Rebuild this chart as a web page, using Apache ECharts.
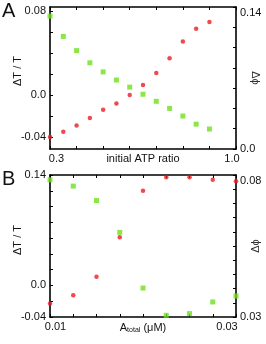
<!DOCTYPE html>
<html><head><meta charset="utf-8">
<script src="https://cdn.jsdelivr.net/npm/echarts@6/dist/echarts.min.js"></script>
<style>html,body{margin:0;padding:0;background:#fff}#c{width:266px;height:344px}</style>
</head><body><div id="c"></div>
<script>
// Panel A
const ratioA = [0.3,0.35,0.4,0.45,0.5,0.55,0.6,0.65,0.7,0.75,0.8,0.85,0.9];
const dTA = [-0.040,-0.035,-0.029,-0.022,-0.014,-0.008,0.000,0.0095,0.021,0.035,0.051,0.063,0.0695];
const phiA = [0.131,0.111,0.097,0.085,0.076,0.068,0.061,0.054,0.047,0.040,0.0325,0.0245,0.0197];
const xTicksA = [0.3,1.0];
const yLeftTicksA = [-0.04,0,0.08];
const yRightTicksA = [0,0.14];
// Panel B
const aTot = [0.01,0.0125,0.015,0.0175,0.02,0.0225,0.025,0.0275,0.03];
const dTB = [-0.023,-0.0125,0.011,0.061,0.120,0.137,0.137,0.134,0.132];
const dphiB = [0.0783,0.0761,0.071,0.0598,0.0402,0.0306,0.0312,0.0353,0.0374];
const xTicksB = [0.01,0.03];
const yLeftTicksB = [-0.04,0,0.14];
const yRightTicksB = [0.03,0.08];

const RED = '#ee1c24', GREEN = '#6fe01a';
const FONT = 'Liberation Sans';
const lab = {fontFamily: FONT, fontSize: 11, color: '#111'};
const line = {show: true, onZero: false, lineStyle: {color: '#000', width: 1.6}};
const tick = (cv) => ({show: true, inside: true, length: 3, lineStyle: {color: '#000', width: 1}, customValues: cv});
function range(a, b, s){ const r=[]; const n=Math.round((b-a)/s); for(let i=0;i<=n;i++) r.push(+(a+i*s).toFixed(6)); return r; }

const yFmt = {'-0.04':'-0.04','0':'0.0','0.08':'0.08','0.14':'0.14','0.03':'0.03'};
const fy = v => yFmt[String(+v.toFixed(6))] || String(v);
const fxA = v => Math.abs(v - 0.3) < 1e-6 ? '{l|0.3}' : '{r|1.0}';
const fxB = v => Math.abs(v - 0.01) < 1e-6 ? '{l|0.01}' : '{r|0.03}';
const richA = {
  l: {fontFamily: FONT, fontSize: 11, color: '#111', padding: [0,0,0,13]},
  r: {fontFamily: FONT, fontSize: 11, color: '#111', padding: [0,8,0,0]}
};
const richB = {
  l: {fontFamily: FONT, fontSize: 11, color: '#111', padding: [0,0,0,11]},
  r: {fontFamily: FONT, fontSize: 11, color: '#111', padding: [0,18,0,0]}
};

const chart = echarts.init(document.getElementById('c'), null, {renderer: 'canvas'});
chart.setOption({
  animation: false,
  grid: [
    {left: 50, top: 7, width: 186, height: 142, outerBoundsMode: 'none', containLabel: false},
    {left: 50, top: 175, width: 186, height: 142, outerBoundsMode: 'none', containLabel: false}
  ],
  xAxis: [
    {gridIndex: 0, type: 'value', min: 0.3, max: 1.0, position: 'bottom',
     axisLine: line, axisTick: tick(range(0.3,1.0,0.1)), splitLine: {show: false},
     axisLabel: Object.assign({customValues: xTicksA, formatter: fxA, margin: 4, rich: richA}, lab),
     name: 'initial ATP ratio', nameLocation: 'middle', nameGap: 4, nameMoveOverlap: false,
     nameTextStyle: {fontFamily: FONT, fontSize: 11, color: '#111', verticalAlign: 'top'}},
    {gridIndex: 0, type: 'value', min: 0.3, max: 1.0, position: 'top',
     axisLine: line, axisTick: tick(range(0.3,1.0,0.1)), splitLine: {show: false}, axisLabel: {show: false}},
    {gridIndex: 1, type: 'value', min: 0.01, max: 0.03, position: 'bottom',
     axisLine: line, axisTick: tick(range(0.01,0.03,0.0025)), splitLine: {show: false},
     axisLabel: Object.assign({customValues: xTicksB, formatter: fxB, margin: 4, rich: richB}, lab),
     name: '{a|A}{s|total}{a| (μM)}', nameLocation: 'middle', nameGap: 4, nameMoveOverlap: false,
     nameTextStyle: {verticalAlign: 'top', rich: {
       a: {fontFamily: FONT, fontSize: 11, color: '#111'},
       s: {fontFamily: FONT, fontSize: 7, color: '#111', verticalAlign: 'bottom', padding: [6,0,0,0]}}}},
    {gridIndex: 1, type: 'value', min: 0.01, max: 0.03, position: 'top',
     axisLine: line, axisTick: tick(range(0.01,0.03,0.0025)), splitLine: {show: false}, axisLabel: {show: false}}
  ],
  yAxis: [
    {gridIndex: 0, type: 'value', min: -0.0514, max: 0.0838, position: 'left',
     axisLine: line, axisTick: tick(range(-0.04,0.08,0.02)), splitLine: {show: false},
     axisLabel: Object.assign({customValues: yLeftTicksA, formatter: fy, margin: 4}, lab)},
    {gridIndex: 0, type: 'value', min: 0, max: 0.14, position: 'right',
     axisLine: line, axisTick: tick(range(0,0.14,0.02)), splitLine: {show: false},
     axisLabel: Object.assign({customValues: yRightTicksA, formatter: fy, margin: 4, verticalAlignMaxLabel: 'top'}, lab),
     name: 'Δϕ', nameLocation: 'middle', nameGap: 14, nameRotate: -90, nameMoveOverlap: false,
     nameTextStyle: {fontFamily: FONT, fontSize: 11, color: '#333'}},
    {gridIndex: 1, type: 'value', min: -0.04, max: 0.14, position: 'left',
     axisLine: line, axisTick: tick(range(-0.04,0.14,0.02)), splitLine: {show: false},
     axisLabel: Object.assign({customValues: yLeftTicksB, formatter: fy, margin: 4}, lab)},
    {gridIndex: 1, type: 'value', min: 0.03, max: 0.08, position: 'right',
     axisLine: line, axisTick: tick(range(0.03,0.08,0.005)), splitLine: {show: false},
     axisLabel: Object.assign({customValues: yRightTicksB, formatter: fy, margin: 4, verticalAlignMaxLabel: 'top'}, lab),
     name: 'Δϕ', nameLocation: 'middle', nameGap: 14, nameRotate: 90, nameMoveOverlap: false,
     nameTextStyle: {fontFamily: FONT, fontSize: 11, color: '#333'}}
  ],
  series: [
    {type: 'scatter', xAxisIndex: 0, yAxisIndex: 0, data: ratioA.map((x,i)=>[x,dTA[i]]), symbol: 'circle', symbolSize: 4.5, itemStyle: {color: RED}, clip: false},
    {type: 'scatter', xAxisIndex: 0, yAxisIndex: 1, data: ratioA.map((x,i)=>[x,phiA[i]]), symbol: 'rect', symbolSize: 5, itemStyle: {color: GREEN}, clip: false},
    {type: 'scatter', xAxisIndex: 2, yAxisIndex: 2, data: aTot.map((x,i)=>[x,dTB[i]]), symbol: 'circle', symbolSize: 4.5, itemStyle: {color: RED}, clip: false},
    {type: 'scatter', xAxisIndex: 2, yAxisIndex: 3, data: aTot.map((x,i)=>[x,dphiB[i]]), symbol: 'rect', symbolSize: 5, itemStyle: {color: GREEN}, clip: false}
  ],
  graphic: [
    {type: 'text', left: 2, top: 1, style: {text: 'A', font: '20px "Liberation Sans"', fill: '#111'}},
    {type: 'text', left: 2, top: 169, style: {text: 'B', font: '20px "Liberation Sans"', fill: '#111'}},
    {type: 'text', x: 18, y: 71, rotation: Math.PI / 2, style: {text: 'ΔT / T', font: '11px "Liberation Sans"', fill: '#111', align: 'center', verticalAlign: 'middle'}},
    {type: 'text', x: 18, y: 240, rotation: Math.PI / 2, style: {text: 'ΔT / T', font: '11px "Liberation Sans"', fill: '#111', align: 'center', verticalAlign: 'middle'}}
  ]
});
</script></body></html>
